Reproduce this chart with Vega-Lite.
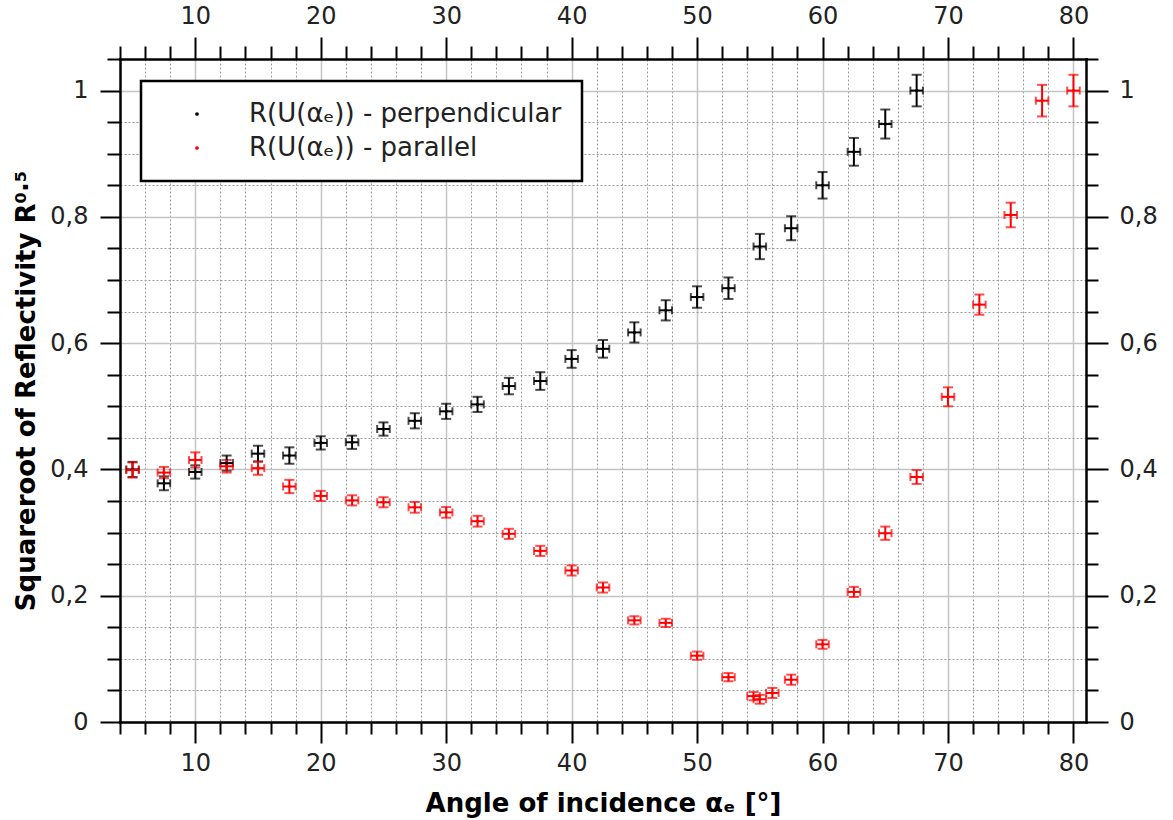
{
  "$schema": "https://vega.github.io/schema/vega-lite/v6.json",
  "width": 966,
  "height": 663,
  "autosize": {"type": "none"},
  "padding": {"left": 120, "top": 59, "right": 87, "bottom": 98},
  "background": "white",
  "data": {
    "values": [
      {"s": "R(U(αₑ)) - perpendicular", "a": 5, "ea": 0.5, "r": 0.400, "er": 0.012},
      {"s": "R(U(αₑ)) - perpendicular", "a": 7.5, "ea": 0.5, "r": 0.378, "er": 0.011},
      {"s": "R(U(αₑ)) - perpendicular", "a": 10, "ea": 0.5, "r": 0.396, "er": 0.0105},
      {"s": "R(U(αₑ)) - perpendicular", "a": 12.5, "ea": 0.5, "r": 0.410, "er": 0.012},
      {"s": "R(U(αₑ)) - perpendicular", "a": 15, "ea": 0.5, "r": 0.425, "er": 0.0125},
      {"s": "R(U(αₑ)) - perpendicular", "a": 17.5, "ea": 0.5, "r": 0.422, "er": 0.013},
      {"s": "R(U(αₑ)) - perpendicular", "a": 20, "ea": 0.5, "r": 0.442, "er": 0.0105},
      {"s": "R(U(αₑ)) - perpendicular", "a": 22.5, "ea": 0.5, "r": 0.443, "er": 0.0105},
      {"s": "R(U(αₑ)) - perpendicular", "a": 25, "ea": 0.5, "r": 0.464, "er": 0.0105},
      {"s": "R(U(αₑ)) - perpendicular", "a": 27.5, "ea": 0.5, "r": 0.477, "er": 0.012},
      {"s": "R(U(αₑ)) - perpendicular", "a": 30, "ea": 0.5, "r": 0.492, "er": 0.012},
      {"s": "R(U(αₑ)) - perpendicular", "a": 32.5, "ea": 0.5, "r": 0.503, "er": 0.012},
      {"s": "R(U(αₑ)) - perpendicular", "a": 35, "ea": 0.5, "r": 0.532, "er": 0.013},
      {"s": "R(U(αₑ)) - perpendicular", "a": 37.5, "ea": 0.5, "r": 0.540, "er": 0.014},
      {"s": "R(U(αₑ)) - perpendicular", "a": 40, "ea": 0.5, "r": 0.575, "er": 0.014},
      {"s": "R(U(αₑ)) - perpendicular", "a": 42.5, "ea": 0.5, "r": 0.591, "er": 0.014},
      {"s": "R(U(αₑ)) - perpendicular", "a": 45, "ea": 0.5, "r": 0.617, "er": 0.016},
      {"s": "R(U(αₑ)) - perpendicular", "a": 47.5, "ea": 0.5, "r": 0.652, "er": 0.016},
      {"s": "R(U(αₑ)) - perpendicular", "a": 50, "ea": 0.5, "r": 0.673, "er": 0.017},
      {"s": "R(U(αₑ)) - perpendicular", "a": 52.5, "ea": 0.5, "r": 0.687, "er": 0.017},
      {"s": "R(U(αₑ)) - perpendicular", "a": 55, "ea": 0.5, "r": 0.753, "er": 0.020},
      {"s": "R(U(αₑ)) - perpendicular", "a": 57.5, "ea": 0.5, "r": 0.782, "er": 0.019},
      {"s": "R(U(αₑ)) - perpendicular", "a": 60, "ea": 0.5, "r": 0.850, "er": 0.021},
      {"s": "R(U(αₑ)) - perpendicular", "a": 62.5, "ea": 0.5, "r": 0.903, "er": 0.022},
      {"s": "R(U(αₑ)) - perpendicular", "a": 65, "ea": 0.5, "r": 0.947, "er": 0.023},
      {"s": "R(U(αₑ)) - perpendicular", "a": 67.5, "ea": 0.5, "r": 1.000, "er": 0.025},
      {"s": "R(U(αₑ)) - parallel", "a": 5, "ea": 0.5, "r": 0.399, "er": 0.012},
      {"s": "R(U(αₑ)) - parallel", "a": 7.5, "ea": 0.5, "r": 0.395, "er": 0.009},
      {"s": "R(U(αₑ)) - parallel", "a": 10, "ea": 0.5, "r": 0.415, "er": 0.012},
      {"s": "R(U(αₑ)) - parallel", "a": 12.5, "ea": 0.5, "r": 0.405, "er": 0.010},
      {"s": "R(U(αₑ)) - parallel", "a": 15, "ea": 0.5, "r": 0.402, "er": 0.0105},
      {"s": "R(U(αₑ)) - parallel", "a": 17.5, "ea": 0.5, "r": 0.373, "er": 0.0105},
      {"s": "R(U(αₑ)) - parallel", "a": 20, "ea": 0.5, "r": 0.358, "er": 0.008},
      {"s": "R(U(αₑ)) - parallel", "a": 22.5, "ea": 0.5, "r": 0.351, "er": 0.008},
      {"s": "R(U(αₑ)) - parallel", "a": 25, "ea": 0.5, "r": 0.348, "er": 0.008},
      {"s": "R(U(αₑ)) - parallel", "a": 27.5, "ea": 0.5, "r": 0.340, "er": 0.0085},
      {"s": "R(U(αₑ)) - parallel", "a": 30, "ea": 0.5, "r": 0.332, "er": 0.0085},
      {"s": "R(U(αₑ)) - parallel", "a": 32.5, "ea": 0.5, "r": 0.318, "er": 0.0085},
      {"s": "R(U(αₑ)) - parallel", "a": 35, "ea": 0.5, "r": 0.298, "er": 0.008},
      {"s": "R(U(αₑ)) - parallel", "a": 37.5, "ea": 0.5, "r": 0.271, "er": 0.008},
      {"s": "R(U(αₑ)) - parallel", "a": 40, "ea": 0.5, "r": 0.240, "er": 0.008},
      {"s": "R(U(αₑ)) - parallel", "a": 42.5, "ea": 0.5, "r": 0.213, "er": 0.008},
      {"s": "R(U(αₑ)) - parallel", "a": 45, "ea": 0.5, "r": 0.161, "er": 0.0065},
      {"s": "R(U(αₑ)) - parallel", "a": 47.5, "ea": 0.5, "r": 0.157, "er": 0.0065},
      {"s": "R(U(αₑ)) - parallel", "a": 50, "ea": 0.5, "r": 0.105, "er": 0.0065},
      {"s": "R(U(αₑ)) - parallel", "a": 52.5, "ea": 0.5, "r": 0.071, "er": 0.0065},
      {"s": "R(U(αₑ)) - parallel", "a": 54.5, "ea": 0.5, "r": 0.041, "er": 0.0066},
      {"s": "R(U(αₑ)) - parallel", "a": 55, "ea": 0.5, "r": 0.036, "er": 0.007},
      {"s": "R(U(αₑ)) - parallel", "a": 56, "ea": 0.5, "r": 0.046, "er": 0.008},
      {"s": "R(U(αₑ)) - parallel", "a": 57.5, "ea": 0.5, "r": 0.067, "er": 0.008},
      {"s": "R(U(αₑ)) - parallel", "a": 60, "ea": 0.5, "r": 0.123, "er": 0.007},
      {"s": "R(U(αₑ)) - parallel", "a": 62.5, "ea": 0.5, "r": 0.206, "er": 0.008},
      {"s": "R(U(αₑ)) - parallel", "a": 65, "ea": 0.5, "r": 0.299, "er": 0.0105},
      {"s": "R(U(αₑ)) - parallel", "a": 67.5, "ea": 0.5, "r": 0.388, "er": 0.011},
      {"s": "R(U(αₑ)) - parallel", "a": 70, "ea": 0.5, "r": 0.515, "er": 0.015},
      {"s": "R(U(αₑ)) - parallel", "a": 72.5, "ea": 0.5, "r": 0.661, "er": 0.016},
      {"s": "R(U(αₑ)) - parallel", "a": 75, "ea": 0.5, "r": 0.803, "er": 0.0195},
      {"s": "R(U(αₑ)) - parallel", "a": 77.5, "ea": 0.5, "r": 0.984, "er": 0.025},
      {"s": "R(U(αₑ)) - parallel", "a": 80, "ea": 0.5, "r": 1.000, "er": 0.025}
    ]
  },
  "resolve": {"axis": {"x": "independent", "y": "independent"}},
  "layer": [
    {
      "mark": {"type": "errorbar", "ticks": true, "size": 8, "thickness": 2},
      "encoding": {
        "x": {"field": "a", "type": "quantitative",
          "scale": {"domain": [4, 81], "nice": false, "zero": false},
          "axis": {"orient": "bottom", "title": "Angle of incidence αₑ [°]", "values": [10, 20, 30, 40, 50, 60, 70, 80],
            "grid": true, "gridColor": "#c4c4c4", "gridWidth": 1.5, "tickSize": 21, "labelPadding": 8, "titlePadding": 15, "domain": true}},
        "xError": {"field": "ea"},
        "y": {"field": "r", "type": "quantitative",
          "scale": {"domain": [0, 1.05], "nice": false, "zero": false},
          "axis": {"orient": "left", "title": "Squareroot of Reflectivity R⁰·⁵", "values": [0, 0.2, 0.4, 0.6, 0.8, 1],
            "labelExpr": "replace(toString(datum.value), '.', ',')",
            "grid": true, "gridColor": "#c4c4c4", "gridWidth": 1.5, "tickSize": 20, "labelPadding": 12, "titlePadding": 10, "domain": true}},
        "color": {"condition": {"test": "datum.s == 'R(U(αₑ)) - perpendicular'", "value": "#000000"}, "value": "#ff0000"}
      }
    },
    {
      "mark": {"type": "errorbar", "ticks": true, "size": 10, "thickness": 2},
      "encoding": {
        "x": {"field": "a", "type": "quantitative",
          "axis": {"orient": "bottom", "title": null, "labels": false, "domain": false,
            "values": [4, 6, 8, 12, 14, 16, 18, 22, 24, 26, 28, 32, 34, 36, 38, 42, 44, 46, 48, 52, 54, 56, 58, 62, 64, 66, 68, 72, 74, 76, 78],
            "grid": true, "gridColor": "#9a9a9a", "gridDash": [2, 2], "gridWidth": 1, "tickSize": 12}},
        "y": {"field": "r", "type": "quantitative",
          "axis": {"orient": "left", "title": null, "labels": false, "domain": false,
            "values": [0.05, 0.1, 0.15, 0.25, 0.3, 0.35, 0.45, 0.5, 0.55, 0.65, 0.7, 0.75, 0.85, 0.9, 0.95, 1.05],
            "grid": true, "gridColor": "#9a9a9a", "gridDash": [2, 2], "gridWidth": 1, "tickSize": 13}},
        "yError": {"field": "er"},
        "color": {"condition": {"test": "datum.s == 'R(U(αₑ)) - perpendicular'", "value": "#000000"}, "value": "#ff0000"}
      }
    },
    {
      "mark": {"type": "point", "filled": true, "size": 10, "opacity": 1},
      "encoding": {
        "x": {"field": "a", "type": "quantitative",
          "axis": {"orient": "top", "title": null, "values": [10, 20, 30, 40, 50, 60, 70, 80], "grid": false, "tickSize": 22, "labelPadding": 9, "domain": true}},
        "y": {"field": "r", "type": "quantitative",
          "axis": {"orient": "right", "title": null, "values": [0, 0.2, 0.4, 0.6, 0.8, 1],
            "labelExpr": "replace(toString(datum.value), '.', ',')",
            "grid": false, "tickSize": 22, "labelPadding": 11, "domain": true}},
        "color": {"field": "s", "type": "nominal",
          "scale": {"domain": ["R(U(αₑ)) - perpendicular", "R(U(αₑ)) - parallel"], "range": ["#000000", "#ff0000"]},
          "legend": {"orient": "none", "legendX": 21, "legendY": 22, "symbolType": "circle", "labelExpr": "datum.label + ' '"}}
      }
    },
    {
      "mark": {"type": "point", "filled": true, "size": 10, "opacity": 0},
      "encoding": {
        "x": {"field": "a", "type": "quantitative",
          "axis": {"orient": "top", "title": null, "labels": false, "domain": false,
            "values": [4, 6, 8, 12, 14, 16, 18, 22, 24, 26, 28, 32, 34, 36, 38, 42, 44, 46, 48, 52, 54, 56, 58, 62, 64, 66, 68, 72, 74, 76, 78],
            "grid": false, "tickSize": 13}},
        "y": {"field": "r", "type": "quantitative",
          "axis": {"orient": "right", "title": null, "labels": false, "domain": false,
            "values": [0.05, 0.1, 0.15, 0.25, 0.3, 0.35, 0.45, 0.5, 0.55, 0.65, 0.7, 0.75, 0.85, 0.9, 0.95, 1.05],
            "grid": false, "tickSize": 12}}
      }
    }
  ],
  "config": {
    "view": {"stroke": null},
    "font": "DejaVu Sans",
    "axis": {
      "domainColor": "#000000", "domainWidth": 2.5, "domainCap": "square",
      "tickColor": "#000000", "tickWidth": 2,
      "labelFont": "DejaVu Sans", "labelFontSize": 24, "labelColor": "#222222",
      "labelOverlap": false, "labelFlush": false,
      "titleFont": "DejaVu Sans", "titleFontSize": 26, "titleFontWeight": "bold", "titleColor": "#000000"
    },
    "legend": {
      "title": null, "padding": 20, "strokeColor": "#000000", "strokeWidth": 2.5, "fillColor": "#ffffff",
      "symbolType": "circle", "symbolSize": 14, "symbolOffset": 23, "symbolStrokeWidth": 0,
      "labelOffset": 39, "labelFont": "DejaVu Sans", "labelFontSize": 26, "labelColor": "#222222",
      "labelLimit": 0, "rowPadding": 8, "cornerRadius": 0
    }
  }
}
